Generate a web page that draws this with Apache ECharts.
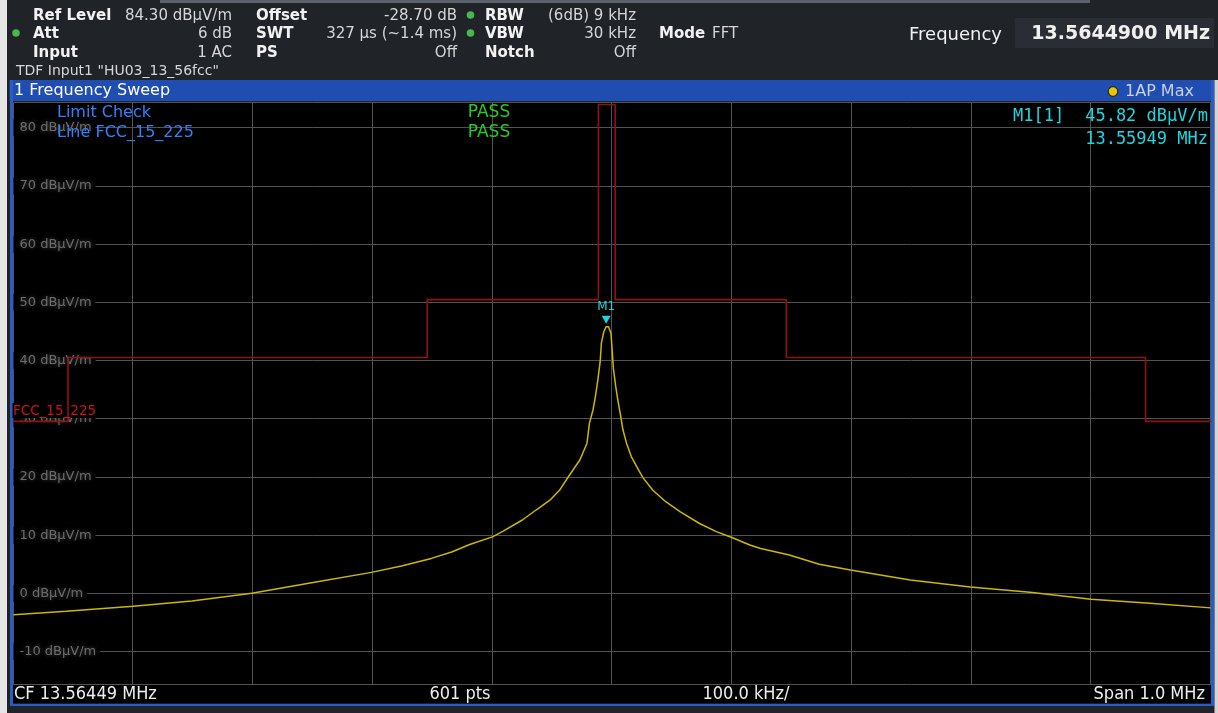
<!DOCTYPE html>
<html>
<head>
<meta charset="utf-8">
<script src="https://cdn.jsdelivr.net/npm/echarts@6/dist/echarts.min.js"></script>
<style>
  html, body { margin: 0; padding: 0; background: #e8e8e8; }
  #chart { width: 1218px; height: 713px; }
</style>
</head>
<body>
<div id="chart"></div>
<script>
// Sweep settings
const centerMHz = 13.56449;
const spanMHz = 1.0;
const refLevel = 84.3;
const rangeDb = 100;
const divisions = 10;

// 1AP Max trace: offset from centre (kHz) and level (dBµV/m)
const traceOffsetKHz = [-500, -456, -400, -351, -301, -251, -201, -176, -151, -134,
  -119, -100, -91, -75, -63, -52, -44, -36, -27, -21,
  -19, -16, -14, -12, -10, -9, -7, -5, -3, -1,
  0, 1, 3, 5, 7, 9, 12, 16, 22, 26,
  34, 45, 57, 73, 87, 100, 115, 124, 148, 173,
  199, 249, 299, 349, 400, 449, 500];
const traceLevel = [-3.7, -3.1, -2.2, -1.3, 0.0, 1.8, 3.6, 4.7, 6.0, 7.1,
  8.4, 9.7, 10.7, 12.6, 14.4, 16.0, 17.7, 20.2, 22.9, 25.8,
  29.2, 31.5, 33.8, 36.6, 39.8, 43.0, 44.9, 45.82, 45.8, 44.7,
  41.8, 38.7, 35.5, 32.9, 30.6, 28.1, 25.8, 23.5, 21.2, 19.8,
  17.7, 15.7, 14.0, 12.0, 10.6, 9.6, 8.3, 7.7, 6.6, 5.0,
  4.0, 2.3, 1.1, 0.2, -1.0, -1.7, -2.5];

// FCC 15.225 limit line: band edges (MHz) and level of each band (dBµV/m)
const limitEdgesMHz = [13.110, 13.410, 13.553, 13.567, 13.710, 14.010];
const limitLevels = [29.54, 40.51, 50.47, 84.0, 50.47, 40.51, 29.54];

// Marker M1
const markerFreqMHz = 13.55949;
const markerLevel = 45.82;

// Header fields
const headerRows = [
  [['Ref Level', '84.30 dBµV/m'], ['Offset', '-28.70 dB'], ['RBW', '(6dB) 9 kHz']],
  [['Att', '6 dB'], ['SWT', '327 µs (~1.4 ms)'], ['VBW', '30 kHz']],
  [['Input', '1 AC'], ['PS', 'Off'], ['Notch', 'Off']]
];
const footerItems = ['CF 13.56449 MHz', '601 pts', '100.0 kHz/', 'Span 1.0 MHz'];

const xMin = centerMHz - spanMHz / 2;
const xMax = centerMHz + spanMHz / 2;
const yMin = refLevel - rangeDb;

const traceData = traceOffsetKHz.map((o, i) => [centerMHz + o / 1000, traceLevel[i]]);

const bandBounds = [xMin].concat(limitEdgesMHz, [xMax]);
const limitData = [];
limitLevels.forEach((lvl, i) => {
  limitData.push([bandBounds[i], lvl]);
  limitData.push([bandBounds[i + 1], lvl]);
});

const FONT = '"DejaVu Sans", Verdana, sans-serif';
const COND = '"DejaVu Sans Condensed", "Liberation Sans Narrow", ' + FONT;
const MONO = '"DejaVu Sans Mono", monospace';
const GRID = { left: 13.5, top: 102.7, width: 1197.3, height: 582 };

function txt(x, y, text, fill, font, align, z) {
  return {
    type: 'text', x: x, y: y, z: z || 100, silent: true,
    style: { text: text, fill: fill, font: font, textAlign: align || 'left', textVerticalAlign: 'middle' }
  };
}
function rect(x, y, w, h, fill, z) {
  return { type: 'rect', z: z || 1, silent: true, shape: { x: x, y: y, width: w, height: h }, style: { fill: fill } };
}
function dot(cx, cy, r, fill, stroke) {
  return { type: 'circle', z: 100, silent: true, shape: { cx: cx, cy: cy, r: r },
    style: { fill: fill, stroke: stroke || null, lineWidth: stroke ? 1.2 : 0 } };
}

const graphics = [];
// frame pieces
graphics.push(rect(0, 0, 7, 713, '#e6e6e6'));
graphics.push(rect(160, 0, 930, 3, '#5b626c'));
graphics.push(rect(9.5, 80, 1205, 21, '#1f4db2'));
graphics.push(rect(10, 80, 3, 626, '#2a5cc8'));
graphics.push(rect(1211, 80, 3, 626, '#2a5cc8'));
graphics.push(rect(10, 703.5, 1204, 2.5, '#2a5cc8'));
graphics.push(rect(13, 685, 1198, 18.5, '#000000'));
graphics.push(rect(1214.5, 80, 3.5, 633, '#d4d4d4'));

// header block
const rowY = [16, 34, 53];
const colLabelX = [33, 256, 485];
const colValueRight = [232, 457, 636];
headerRows.forEach((row, r) => {
  row.forEach((cell, c) => {
    graphics.push(txt(colLabelX[c], rowY[r], cell[0], '#f2f2f2', 'bold 15px ' + FONT));
    graphics.push(txt(colValueRight[c], rowY[r], cell[1], '#d6d6d6', '15px ' + FONT, 'right'));
  });
});
graphics.push(txt(659, 34, 'Mode', '#f2f2f2', 'bold 15px ' + FONT));
graphics.push(txt(712, 34, 'FFT', '#d6d6d6', '15px ' + FONT));
graphics.push(dot(16, 33, 3.8, '#45b84f'));
graphics.push(dot(470.5, 15, 3.8, '#45b84f'));
graphics.push(dot(470.5, 33, 3.8, '#45b84f'));
graphics.push(txt(16, 71, 'TDF Input1 "HU03_13_56fcc"', '#d6d6d6', '14px ' + FONT));

graphics.push(txt(1002, 35, 'Frequency', '#f0f0f0', '18px ' + FONT, 'right'));
graphics.push(rect(1015, 18, 199, 30, '#2a2d33', 2));
graphics.push(txt(1210, 34, '13.5644900 MHz', '#f0f0f0', 'bold 19px ' + FONT, 'right'));

// title bar
graphics.push(txt(14, 91, '1 Frequency Sweep', '#ffffff', '16px ' + FONT));
graphics.push(dot(1113, 91.5, 4.8, '#e9c800', '#2a2a2a'));
graphics.push(txt(1125, 91.5, '1AP Max', '#c9d0e2', '16px ' + FONT, 'left'));

// in-plot annotations
graphics.push(txt(57, 113, 'Limit Check', '#2f82ff', '16px ' + FONT));
graphics.push(txt(57, 133, 'Line FCC_15_225', '#2f82ff', '16px ' + FONT));
graphics.push(txt(489, 113, 'PASS', '#25cc25', '17px ' + FONT, 'center'));
graphics.push(txt(489, 133, 'PASS', '#25cc25', '17px ' + FONT, 'center'));
graphics.push(txt(1013, 117, 'M1[1]', '#1fd6df', '17px ' + MONO));
graphics.push(txt(1208, 117, markerLevel.toFixed(2) + ' dBµV/m', '#1fd6df', '17px ' + MONO, 'right'));
graphics.push(txt(1208, 140, markerFreqMHz.toFixed(5) + ' MHz', '#1fd6df', '17px ' + MONO, 'right'));
// limit line name tag: box sits under the series, text on top
graphics.push(rect(12.5, 403, 85, 15, '#000000', 2));
graphics.push(txt(13, 411, 'FCC_15_225', '#cc1414', '13.5px ' + FONT, 'left', 120));

// footer
graphics.push(txt(14, 694, footerItems[0], '#eeeeee', '18px ' + COND));
graphics.push(txt(460, 694, footerItems[1], '#eeeeee', '18px ' + COND, 'center'));
graphics.push(txt(746, 694, footerItems[2], '#eeeeee', '18px ' + COND, 'center'));
graphics.push(txt(1205, 694, footerItems[3], '#eeeeee', '18px ' + COND, 'right'));

const chart = echarts.init(document.getElementById('chart'), null, { renderer: 'canvas' });
chart.setOption({
  animation: false,
  backgroundColor: '#202328',
  grid: Object.assign({ show: true, backgroundColor: '#000000', borderWidth: 0, containLabel: false }, GRID),
  xAxis: {
    type: 'value', min: xMin, max: xMax, interval: spanMHz / divisions,
    axisLine: { show: false }, axisTick: { show: false }, axisLabel: { show: false },
    splitLine: { show: true, lineStyle: { color: '#525252', width: 1 } }
  },
  yAxis: [{
    type: 'value', min: yMin, max: refLevel, minInterval: rangeDb / divisions, maxInterval: rangeDb / divisions,
    splitNumber: divisions, z: 0,
    axisLine: { show: false }, axisTick: { show: false }, axisLabel: { show: false },
    splitLine: { show: true, lineStyle: { color: '#525252', width: 1 } }
  }, {
    type: 'value', min: yMin, max: refLevel, minInterval: rangeDb / divisions, maxInterval: rangeDb / divisions,
    splitNumber: divisions, z: 1, position: 'left',
    axisLine: { show: false }, axisTick: { show: false }, splitLine: { show: false },
    axisLabel: {
      inside: true, margin: 0, showMinLabel: false, showMaxLabel: false,
      color: '#6c6c6c', fontFamily: 'DejaVu Sans', fontSize: 13,
      backgroundColor: '#000000', padding: [2, 4, 2, 6],
      textShadowColor: 'rgba(110,110,110,0.7)', textShadowBlur: 4,
      formatter: v => (Math.abs(v % 10) < 1e-6 ? v + ' dBµV/m' : '')
    }
  }],
  series: [{
    name: 'FCC_15_225', type: 'line', data: limitData, yAxisIndex: 0,
    showSymbol: false, silent: true, z: 3,
    lineStyle: { color: '#8e1414', width: 1.6 }
  }, {
    name: '1AP Max', type: 'line', data: traceData, yAxisIndex: 0,
    showSymbol: false, silent: true, z: 4,
    lineStyle: { color: '#cdb800', width: 1.5 },
    markPoint: {
      silent: true,
      symbol: 'triangle', symbolRotate: 180, symbolSize: [9, 8], symbolOffset: [0, -7],
      itemStyle: { color: '#1fd6df' },
      label: { show: true, position: 'top', distance: 3, formatter: 'M1', color: '#1fd6df', fontSize: 12, fontFamily: 'DejaVu Sans' },
      data: [{ coord: [markerFreqMHz, markerLevel] }]
    }
  }],
  graphic: { elements: graphics }
});
</script>
</body>
</html>
